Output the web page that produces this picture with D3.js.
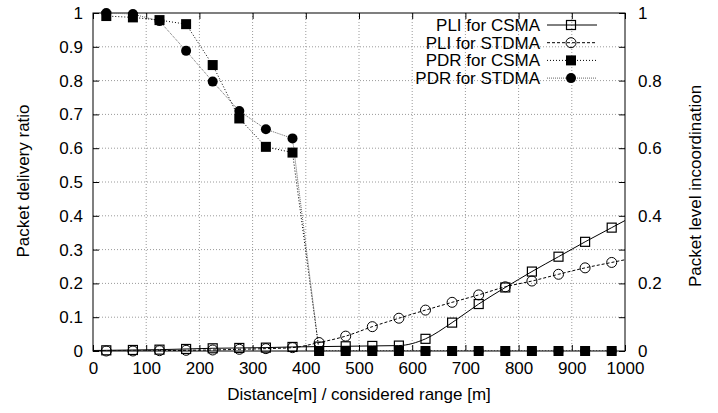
<!DOCTYPE html>
<html>
<head>
<meta charset="utf-8">
<script src="https://cdn.jsdelivr.net/npm/d3@7"></script>
<style>
  html, body { margin: 0; padding: 0; background: #fff; }
  svg { display: block; font-family: "Liberation Sans", Arial, sans-serif; }
  .grid line { stroke: #9a9a9a; stroke-width: 1; stroke-dasharray: 1,2; }
</style>
</head>
<body>
<svg id="svg" width="718" height="413"></svg>
<script>
const distances = [25, 75, 125, 175, 225, 275, 325, 375, 425, 475, 525, 575, 625, 675, 725, 775, 825, 875, 925, 975];
const pliCsma = [0.002, 0.003, 0.004, 0.006, 0.008, 0.009, 0.010, 0.012, 0.013, 0.014, 0.015, 0.016, 0.036, 0.084, 0.139, 0.188, 0.235, 0.279, 0.323, 0.365];
const pliStdma = [0.0, 0.0, 0.001, 0.002, 0.003, 0.005, 0.007, 0.010, 0.025, 0.044, 0.072, 0.097, 0.121, 0.144, 0.166, 0.190, 0.207, 0.227, 0.246, 0.262];
const pdrCsma = [0.991, 0.987, 0.979, 0.967, 0.846, 0.688, 0.604, 0.587, 0, 0, 0, 0, 0, 0, 0, 0, 0, 0, 0, 0];
const pdrStdma = [1.0, 0.997, 0.976, 0.888, 0.797, 0.710, 0.656, 0.629, 0, 0, 0, 0, 0, 0, 0, 0, 0, 0, 0, 0];
const xTicks = [0, 100, 200, 300, 400, 500, 600, 700, 800, 900, 1000];
const leftTicks = [0, 0.1, 0.2, 0.3, 0.4, 0.5, 0.6, 0.7, 0.8, 0.9, 1];
const rightTicks = [0, 0.2, 0.4, 0.6, 0.8, 1];
const legendLabels = ['PLI for CSMA', 'PLI for STDMA', 'PDR for CSMA', 'PDR for STDMA'];

const margin = { top: 13, right: 93, bottom: 62, left: 93 };
const svg = d3.select('#svg');
const width = 718 - margin.left - margin.right;
const height = 413 - margin.top - margin.bottom;
const fontSize = '17px';

const x = d3.scaleLinear().domain([0, 1000]).range([0, width]);
const yL = d3.scaleLinear().domain([0, 1]).range([height, 0]);
const yR = d3.scaleLinear().domain([0, 1]).range([height, 0]);

const g = svg.append('g').attr('transform', `translate(${margin.left},${margin.top})`);

g.append('defs').append('clipPath').attr('id', 'clip')
  .append('rect').attr('width', width).attr('height', height);

// grid
const grid = g.append('g').classed('grid', true);
grid.selectAll('.gx').data(xTicks.slice(1, -1)).enter().append('line')
  .attr('x1', d => x(d)).attr('x2', d => x(d)).attr('y1', 0).attr('y2', height);
grid.selectAll('.gy').data(leftTicks.slice(1, -1)).enter().append('line')
  .attr('x1', 0).attr('x2', width).attr('y1', d => yL(d)).attr('y2', d => yL(d));

// axes (gnuplot style: inward ticks, mirrored)
const tick = 6;
const axisFont = g => g.selectAll('text').style('font-size', fontSize).attr('fill', '#000');
g.append('g').attr('transform', `translate(0,${height})`)
  .call(d3.axisBottom(x).tickValues(xTicks).tickSizeInner(-tick).tickSizeOuter(0).tickPadding(11).tickFormat(d3.format('d')))
  .call(axisFont).call(s => s.select('.domain').remove());
g.append('g')
  .call(d3.axisTop(x).tickValues(xTicks).tickSizeInner(-tick).tickSizeOuter(0).tickFormat(''))
  .call(s => s.select('.domain').remove());
g.append('g')
  .call(d3.axisLeft(yL).tickValues(leftTicks).tickSizeInner(-tick).tickSizeOuter(0).tickPadding(10).tickFormat(d => d3.format('~g')(d)))
  .call(axisFont).call(s => s.select('.domain').remove());
g.append('g').attr('transform', `translate(${width},0)`)
  .call(d3.axisRight(yL).tickValues(leftTicks).tickSizeInner(-tick).tickSizeOuter(0).tickFormat(''))
  .call(s => s.select('.domain').remove());
g.append('g').attr('transform', `translate(${width},0)`)
  .call(d3.axisRight(yR).tickValues(rightTicks).tickSizeInner(0).tickSizeOuter(0).tickPadding(13).tickFormat(d => d3.format('~g')(d)))
  .call(axisFont).call(s => s.select('.domain').remove());

g.append('rect').attr('width', width).attr('height', height)
  .attr('fill', 'none').attr('stroke', '#000').attr('stroke-width', 1);

// series
const extend = (xs, ys) => {
  const pts = xs.map((d, i) => [d, ys[i]]);
  const n = pts.length;
  const slopeL = (pts[1][1] - pts[0][1]) / (pts[1][0] - pts[0][0]);
  const slopeR = (pts[n - 1][1] - pts[n - 2][1]) / (pts[n - 1][0] - pts[n - 2][0]);
  const x0 = x.domain()[0], x1 = x.domain()[1];
  return [[x0, Math.max(0, pts[0][1] + slopeL * (x0 - pts[0][0]))], ...pts,
          [x1, pts[n - 1][1] + slopeR * (x1 - pts[n - 1][0])]];
};

const series = [
  { name: legendLabels[0], ys: pliCsma, scale: yR, smooth: true, stroke: '#000', dash: null, width: 1, marker: 'square', fill: 'none' },
  { name: legendLabels[1], ys: pliStdma, scale: yR, smooth: true, stroke: '#000', dash: '3,2', width: 1, marker: 'circle', fill: 'none' },
  { name: legendLabels[3], ys: pdrStdma, scale: yL, smooth: false, stroke: '#666', dash: '1,1', width: 1, marker: 'circle', fill: '#000' },
  { name: legendLabels[2], ys: pdrCsma, scale: yL, smooth: false, stroke: '#000', dash: '1,2', width: 1, marker: 'square', fill: '#000' }
];

const plot = g.append('g').attr('clip-path', 'url(#clip)');
series.forEach(s => {
  const pts = s.smooth ? extend(distances, s.ys) : distances.map((d, i) => [d, s.ys[i]]);
  const line = d3.line().x(d => x(d[0])).y(d => s.scale(d[1]))
    .curve(s.smooth ? d3.curveMonotoneX : d3.curveLinear);
  plot.append('path').datum(pts)
    .attr('d', line).attr('fill', 'none')
    .attr('stroke', s.stroke).attr('stroke-width', s.width)
    .attr('stroke-dasharray', s.dash);
});

const drawMarker = (sel, s, cx, cy) => {
  if (s.marker === 'square') {
    const size = s.fill === 'none' ? 9 : 10;
    sel.append('rect').attr('x', cx - size / 2).attr('y', cy - size / 2)
      .attr('width', size).attr('height', size)
      .attr('fill', s.fill === 'none' ? 'none' : s.fill)
      .attr('stroke', '#000').attr('stroke-width', s.fill === 'none' ? 1.2 : 0);
  } else {
    sel.append('circle').attr('cx', cx).attr('cy', cy)
      .attr('r', 5)
      .attr('fill', s.fill === 'none' ? 'none' : s.fill)
      .attr('stroke', '#000').attr('stroke-width', s.fill === 'none' ? 1 : 0);
  }
};

const markers = g.append('g');
series.forEach(s => {
  distances.forEach((d, i) => drawMarker(markers, s, x(d), s.scale(s.ys[i])));
});

// legend
const legendOrder = [series[0], series[1], series[3], series[2]];
const legend = g.append('g').attr('transform', `translate(${width - 85},${12})`);
legendOrder.forEach((s, i) => {
  const row = legend.append('g').attr('transform', `translate(0,${i * 17.7})`);
  row.append('text').attr('x', 0).attr('y', 6).attr('text-anchor', 'end')
    .style('font-size', fontSize).text(s.name);
  row.append('line').attr('x1', 7).attr('x2', 57).attr('y1', 0).attr('y2', 0)
    .attr('stroke', s.stroke).attr('stroke-width', s.width).attr('stroke-dasharray', s.dash);
  drawMarker(row, s, 31, 0);
});

// axis titles
svg.append('text').attr('transform', `translate(29,181) rotate(-90)`)
  .attr('text-anchor', 'middle').style('font-size', fontSize).text('Packet delivery ratio');
svg.append('text').attr('transform', `translate(701,186) rotate(-90)`)
  .attr('text-anchor', 'middle').style('font-size', fontSize).text('Packet level incoordination');
svg.append('text').attr('x', 359).attr('y', 400)
  .attr('text-anchor', 'middle').style('font-size', fontSize).text('Distance[m] / considered range [m]');
</script>
</body>
</html>
